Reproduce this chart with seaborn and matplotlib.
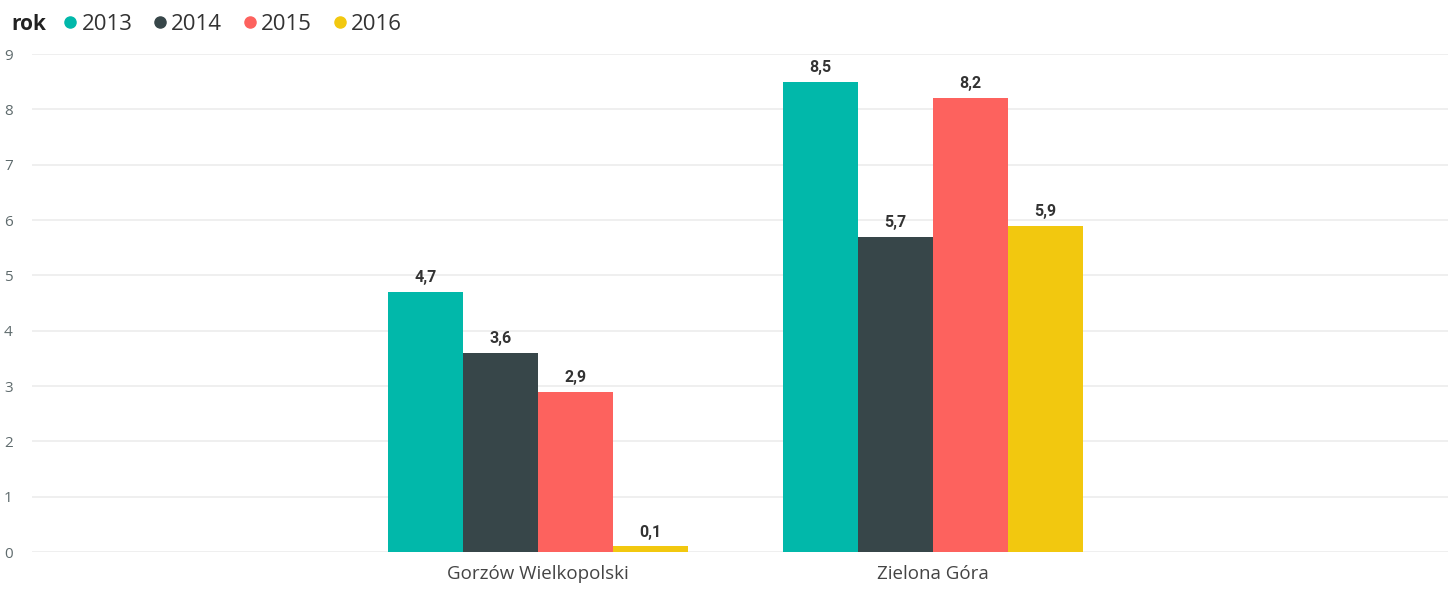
import pandas as pd
import matplotlib.pyplot as plt
import seaborn as sns
from matplotlib.lines import Line2D

# data
miasta = ["Gorzów Wielkopolski", "Zielona Góra"]
lata = ["2013", "2014", "2015", "2016"]
v2013 = [4.7, 8.5]
v2014 = [3.6, 5.7]
v2015 = [2.9, 8.2]
v2016 = [0.1, 5.9]
kolory = ["#01B8AA", "#374649", "#FD625E", "#F2C80F"]

rows = []
for rok, vals in zip(lata, [v2013, v2014, v2015, v2016]):
    for m, v in zip(miasta, vals):
        rows.append({"miasto": m, "rok": rok, "wartosc": v})
df = pd.DataFrame(rows)

sns.set_theme(style="white")
plt.rcParams["font.family"] = ["Open Sans", "DejaVu Sans"]

fig = plt.figure(figsize=(14.48, 5.89), dpi=100)
ax = fig.add_axes([0.0221, 0.0628, 0.9779, 0.8455])

sns.barplot(data=df, x="miasto", y="wartosc", hue="rok", palette=kolory,
            width=0.76, saturation=1, linewidth=0, ax=ax, legend=False)

# data labels with decimal comma
for cont in ax.containers:
    labels = [f"{b.get_height():.1f}".replace(".", ",") for b in cont]
    ax.bar_label(cont, labels=labels, padding=5, fontsize=11.5,
                 fontweight="bold", color="#333333", family="Roboto")

ax.set_ylim(0, 9)
ax.set_xlim(-1.281, 2.304)
ax.set_yticks(range(0, 10))
ax.yaxis.grid(True, color="#ececec", linewidth=1.2)
ax.set_axisbelow(True)
for s in ax.spines.values():
    s.set_visible(False)
ax.set_xlabel("")
ax.set_ylabel("")
ax.tick_params(axis="y", length=0, labelsize=11, labelcolor="#5f6b6d", pad=17)
ax.tick_params(axis="x", length=0, labelsize=13.5, labelcolor="#444444", pad=9)
for lbl in ax.get_yticklabels():
    lbl.set_horizontalalignment("center")

# legend along the top
fig.text(0.008, 0.958, "rok", fontsize=15, fontweight="bold",
         color="#222222", va="center")
handles = [Line2D([0], [0], marker="o", linestyle="", markersize=8,
                  markerfacecolor=c, markeredgecolor=c) for c in kolory]
fig.legend(handles, lata, loc="center left", bbox_to_anchor=(0.044, 0.958),
           ncol=4, frameon=False, fontsize=16, handlelength=0.6,
           handletextpad=0.2, columnspacing=0.95, labelcolor="#333333",
           borderaxespad=0, borderpad=0)

fig.savefig("out.png", dpi=100)
